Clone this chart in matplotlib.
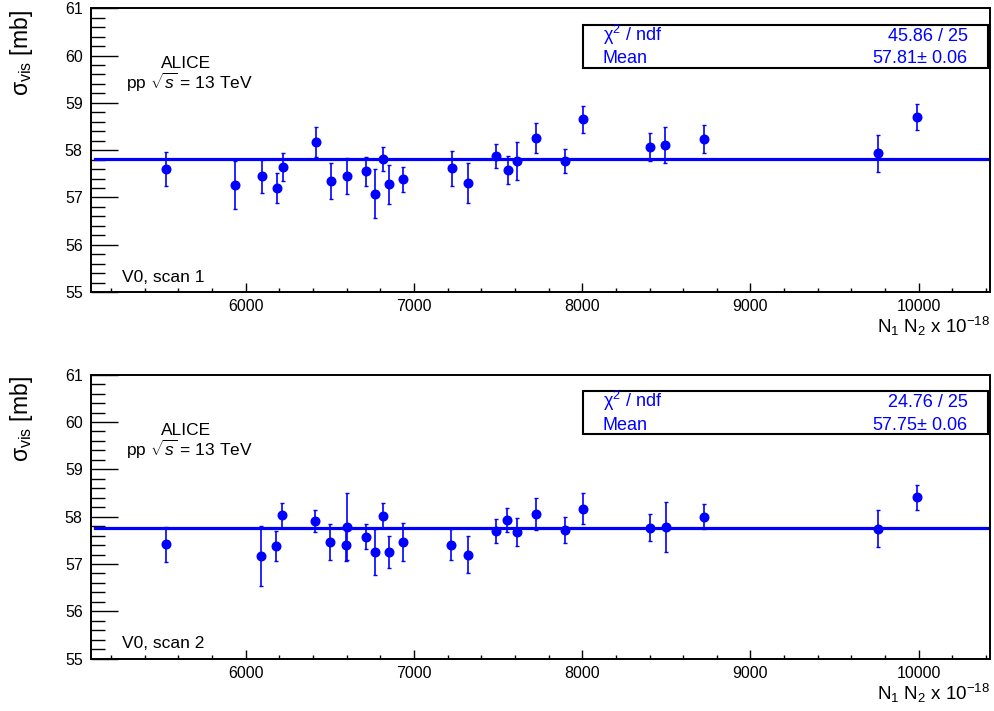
"""Visible cross-section vs. bunch-intensity product for two vdM scans."""

import numpy as np
import matplotlib
matplotlib.use("Agg")
import matplotlib.pyplot as plt
from matplotlib.patches import Rectangle
from matplotlib.ticker import MultipleLocator

plt.rcParams["font.family"] = ["Liberation Sans", "DejaVu Sans"]
plt.rcParams["mathtext.fontset"] = "custom"
plt.rcParams["mathtext.rm"] = "Liberation Sans"
plt.rcParams["mathtext.it"] = "Liberation Sans:italic"
plt.rcParams["mathtext.bf"] = "Liberation Sans:bold"

# scan 1: N1*N2 (x 1e-18), sigma_vis [mb], stat. error
x_scan1 = [5524, 5936, 6099, 6184, 6222, 6416, 6509, 6602, 6717, 6771, 6816,
           6854, 6937, 7227, 7323, 7490, 7558, 7611, 7726, 7900, 8005, 8400,
           8495, 8723, 9757, 9989]
sig_scan1 = [57.61, 57.26, 57.45, 57.20, 57.64, 58.17, 57.35, 57.46, 57.55,
             57.08, 57.81, 57.28, 57.38, 57.62, 57.30, 57.88, 57.58, 57.77,
             58.26, 57.77, 58.65, 58.07, 58.10, 58.24, 57.93, 58.70]
err_scan1 = [0.36, 0.50, 0.35, 0.32, 0.30, 0.31, 0.38, 0.38, 0.30, 0.52, 0.26,
             0.41, 0.27, 0.37, 0.42, 0.25, 0.30, 0.40, 0.32, 0.26, 0.28, 0.29,
             0.38, 0.29, 0.39, 0.27]

# scan 2
x_scan2 = [5524, 6093, 6180, 6216, 6412, 6503, 6598, 6602, 6717, 6771, 6815,
           6852, 6933, 7222, 7322, 7490, 7553, 7611, 7726, 7900, 8004, 8404,
           8497, 8724, 9760, 9989]
sig_scan2 = [57.42, 57.17, 57.38, 58.03, 57.90, 57.46, 57.41, 57.79, 57.58,
             57.25, 58.02, 57.25, 57.46, 57.41, 57.20, 57.70, 57.93, 57.67,
             58.05, 57.72, 58.17, 57.77, 57.78, 58.00, 57.74, 58.41]
err_scan2 = [0.37, 0.64, 0.31, 0.26, 0.23, 0.38, 0.35, 0.70, 0.26, 0.49, 0.26,
             0.34, 0.40, 0.33, 0.40, 0.25, 0.26, 0.30, 0.34, 0.28, 0.33, 0.28,
             0.53, 0.27, 0.39, 0.26]

# constant fit results
fit_mean = [57.81, 57.75]
fit_err = [0.06, 0.06]
fit_chi2 = [45.86, 24.76]
fit_ndf = [25, 25]
scan_names = ["V0, scan 1", "V0, scan 2"]

BLUE = "#0000ff"
W, H = 995, 711
X_RANGE = (5080, 10424)
Y_RANGE = (55, 61)


def draw_panel(ax, x, y, yerr, mean, mean_err, chi2, ndf, label):
    ax.errorbar(x, y, yerr=yerr, fmt="o", color=BLUE, ms=6.2, elinewidth=1.2,
                capsize=1.5, capthick=1.0, zorder=3)
    ax.plot([5105, 10410], [mean, mean], color=BLUE, lw=2.3, zorder=2)

    ax.set_xlim(*X_RANGE)
    ax.set_ylim(*Y_RANGE)
    ax.xaxis.set_major_locator(MultipleLocator(1000))
    ax.xaxis.set_minor_locator(MultipleLocator(200))
    ax.yaxis.set_major_locator(MultipleLocator(1))
    ax.yaxis.set_minor_locator(MultipleLocator(0.2))
    ax.tick_params(which="both", direction="in", top=False, right=False,
                   width=1.0, labelsize=11.5)
    ax.tick_params(axis="x", which="major", length=6.5, pad=5)
    ax.tick_params(axis="x", which="minor", length=3.2)
    ax.tick_params(axis="y", which="major", length=19.5, pad=6)
    ax.tick_params(axis="y", which="minor", length=10)
    for sp in ax.spines.values():
        sp.set_linewidth(1.4)

    ax.text(-0.0768, 0.994, "σ$_{\\mathrm{vis}}$ [mb]", transform=ax.transAxes,
            rotation=90, ha="center", va="top", fontsize=16.5)
    ax.text(1.0, -0.1445, "N$_{1}$ N$_{2}$ x 10$^{-18}$", transform=ax.transAxes,
            ha="right", va="baseline", fontsize=13.5)

    ax.text(0.0779, 0.7885, "ALICE", transform=ax.transAxes,
            ha="left", va="baseline", fontsize=12.5)
    ax.text(0.0389, 0.7145, "pp $\\sqrt{s}$ = 13 TeV", transform=ax.transAxes,
            ha="left", va="baseline", fontsize=12.5)
    ax.text(0.0341, 0.037, label, transform=ax.transAxes,
            ha="left", va="baseline", fontsize=12.5)

    # fit statistics box
    ax.add_patch(Rectangle((0.547, 0.790), 0.451, 0.151, transform=ax.transAxes,
                           facecolor="white", edgecolor="black", lw=1.5,
                           zorder=5))
    ax.text(0.5695, 0.886, "χ$^{2}$ / ndf", transform=ax.transAxes,
            ha="left", va="baseline", fontsize=13, color=BLUE, zorder=6)
    ax.text(0.9755, 0.886, f"{chi2:.2f} / {ndf}", transform=ax.transAxes,
            ha="right", va="baseline", fontsize=13, color=BLUE, zorder=6)
    ax.text(0.5695, 0.806, "Mean", transform=ax.transAxes,
            ha="left", va="baseline", fontsize=13, color=BLUE, zorder=6)
    ax.text(0.9755, 0.806, f"{mean:.2f}$\\pm$ {mean_err:.2f}",
            transform=ax.transAxes, ha="right", va="baseline", fontsize=13,
            color=BLUE, zorder=6)


def main():
    fig = plt.figure(figsize=(W / 100, H / 100), dpi=100)
    ax1 = fig.add_axes([91 / W, 1 - 292 / H, 899 / W, 283.7 / H])
    ax2 = fig.add_axes([91 / W, 1 - 658.6 / H, 899 / W, 283.9 / H])

    draw_panel(ax1, x_scan1, sig_scan1, err_scan1, fit_mean[0], fit_err[0],
               fit_chi2[0], fit_ndf[0], scan_names[0])
    draw_panel(ax2, x_scan2, sig_scan2, err_scan2, fit_mean[1], fit_err[1],
               fit_chi2[1], fit_ndf[1], scan_names[1])

    fig.savefig("out.png", dpi=100)


if __name__ == "__main__":
    main()
